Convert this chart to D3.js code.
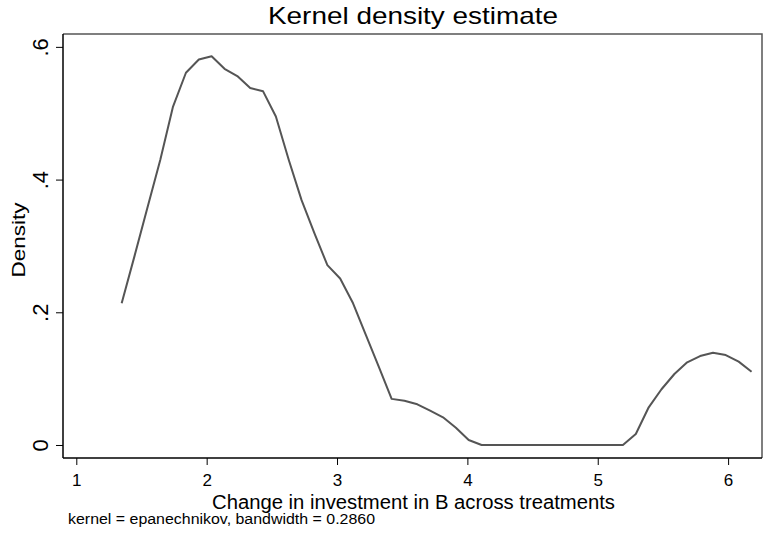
<!DOCTYPE html>
<html>
<head>
<meta charset="utf-8">
<script src="https://cdn.jsdelivr.net/npm/d3@7"></script>
<style>
  body { margin: 0; background: #fff; }
  svg { display: block; font-family: Arial, "Liberation Sans", sans-serif; }
</style>
</head>
<body>
<svg width="767" height="544"></svg>
<script>
// donnees
let xGrille = [1.348, 1.447, 1.545, 1.644, 1.742, 1.841, 1.940, 2.038, 2.137, 2.235,
    2.334, 2.433, 2.531, 2.630, 2.728, 2.827, 2.926, 3.024, 3.123, 3.221,
    3.320, 3.419, 3.517, 3.616, 3.714, 3.813, 3.912, 4.010, 4.109, 4.207,
    4.306, 4.405, 4.503, 4.602, 4.700, 4.799, 4.898, 4.996, 5.095, 5.193,
    5.292, 5.391, 5.489, 5.588, 5.686, 5.785, 5.884, 5.982, 6.081, 6.180];

let densite = [0.2136, 0.285, 0.357, 0.4295, 0.510, 0.561, 0.581, 0.586, 0.567, 0.556,
    0.538, 0.533, 0.495, 0.4295, 0.369, 0.319, 0.271, 0.251, 0.2136, 0.166,
    0.118, 0.0695, 0.0668, 0.0613, 0.0517, 0.0417, 0.026, 0.0075, 0, 0,
    0, 0, 0, 0, 0, 0, 0, 0, 0, 0,
    0.0166, 0.0568, 0.084, 0.107, 0.1246, 0.134, 0.139, 0.1356, 0.1256, 0.1105];

let ticksX = [1, 2, 3, 4, 5, 6];
let ticksY = [0, 0.2, 0.4, 0.6];
let labelsY = ["0", ".2", ".4", ".6"];

let titre = "Kernel density estimate";
let titreX = "Change in investment in B across treatments";
let titreY = "Density";
let note = "kernel = epanechnikov, bandwidth = 0.2860";

// zone du graphique
let gauche = 63, droite = 762, haut = 34, bas = 458;

let svg = d3.select("svg");

let x = d3.scaleLinear().domain([0.898, 6.260]).range([gauche, droite]);
let y = d3.scaleLinear().domain([-0.0196, 0.6194]).range([bas, haut]);

// cadre (haut et droite en gris)
svg.append("path")
    .attr("d", `M${gauche},${haut}H${droite}V${bas}`)
    .attr("fill", "none")
    .attr("stroke", "#555")
    .attr("stroke-width", 1.5);

// axes
let axeY = d3.axisLeft(y).tickValues(ticksY).tickSize(7).tickFormat((d, i) => labelsY[i]);
let gY = svg.append("g").attr("transform", `translate(${gauche},0)`).call(axeY);
gY.select(".domain").attr("d", `M0,${haut}V${bas}`).attr("stroke", "#000").attr("stroke-width", 1.5);
gY.selectAll(".tick line").attr("stroke", "#000");
gY.selectAll(".tick text")
    .attr("font-size", 22)
    .attr("x", null).attr("dy", null)
    .attr("text-anchor", "middle")
    .attr("transform", "translate(-15,0) rotate(-90)");

let axeX = d3.axisBottom(x).tickValues(ticksX).tickSize(7).tickFormat(d3.format("d"));
let gX = svg.append("g").attr("transform", `translate(0,${bas})`).call(axeX);
gX.select(".domain").attr("d", `M${gauche},0H${droite}`).attr("stroke", "#000").attr("stroke-width", 1.5);
gX.selectAll(".tick line").attr("stroke", "#000");
gX.selectAll(".tick text")
    .attr("font-size", 17)
    .attr("y", 28).attr("dy", null);

svg.selectAll(".tick text").attr("fill", "#000").attr("font-family", "Arial, 'Liberation Sans', sans-serif");

// courbe de densite
let points = xGrille.map((v, i) => ({x: v, y: densite[i]}));
let ligne = d3.line().x(d => x(d.x)).y(d => y(d.y));

svg.append("path")
    .datum(points)
    .attr("d", ligne)
    .attr("fill", "none")
    .attr("stroke", "#555")
    .attr("stroke-width", 2)
    .attr("stroke-linejoin", "round");

// textes
svg.append("text")
    .attr("x", 268).attr("y", 24)
    .attr("font-size", 24)
    .attr("textLength", 290)
    .attr("lengthAdjust", "spacingAndGlyphs")
    .text(titre);

svg.append("text")
    .attr("x", 212).attr("y", 509)
    .attr("font-size", 20)
    .attr("textLength", 403)
    .attr("lengthAdjust", "spacingAndGlyphs")
    .text(titreX);

svg.append("text")
    .attr("transform", "translate(25,240) rotate(-90)")
    .attr("text-anchor", "middle")
    .attr("font-size", 18)
    .attr("textLength", 75)
    .attr("lengthAdjust", "spacingAndGlyphs")
    .text(titreY);

svg.append("text")
    .attr("x", 68).attr("y", 524)
    .attr("font-size", 15.5)
    .attr("textLength", 307)
    .attr("lengthAdjust", "spacingAndGlyphs")
    .text(note);
</script>
</body>
</html>
